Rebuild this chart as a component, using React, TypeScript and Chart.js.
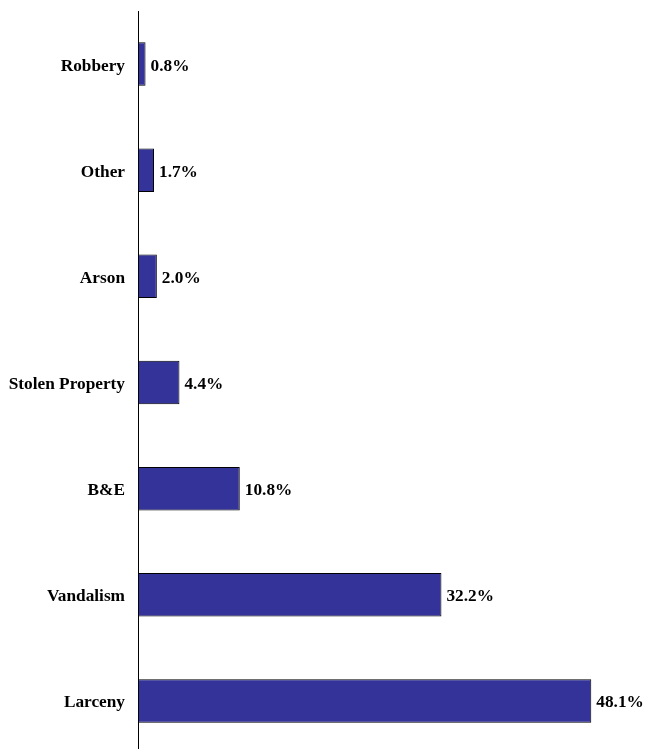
import React, { useEffect, useRef } from "react";
import { Chart, registerables } from "chart.js";

Chart.register(...registerables);

const categories = ["Robbery", "Other", "Arson", "Stolen Property", "B&E", "Vandalism", "Larceny"];
const values = [0.8, 1.7, 2.0, 4.4, 10.8, 32.2, 48.1];
const valueLabels = ["0.8%", "1.7%", "2.0%", "4.4%", "10.8%", "32.2%", "48.1%"];

const FONT = "'Liberation Serif', 'Times New Roman', serif";

const labelPlugin = {
  id: "valueLabels",
  afterDatasetsDraw(chart: any) {
    const ctx = chart.ctx;
    const meta = chart.getDatasetMeta(0);
    ctx.save();
    ctx.font = `bold 17.3px ${FONT}`;
    ctx.fillStyle = "#000";
    ctx.textAlign = "left";
    ctx.textBaseline = "middle";
    meta.data.forEach((bar: any, i: number) => {
      ctx.fillText(valueLabels[i], bar.x + 5, bar.y + 2);
    });
    ctx.restore();
  },
};

export default function App() {
  const ref = useRef<HTMLCanvasElement>(null);
  useEffect(() => {
    if (!ref.current) return;
    const chart = new Chart(ref.current, {
      type: "bar",
      data: {
        labels: categories,
        datasets: [
          {
            data: values,
            backgroundColor: "#333399",
            borderColor: "#000000",
            borderWidth: 1,
            borderSkipped: false,
            categoryPercentage: 1,
            barPercentage: 0.41,
          },
        ],
      },
      options: {
        indexAxis: "y",
        responsive: false,
        animation: false,
        layout: { padding: { top: 11, bottom: 6, left: 0, right: 0 } },
        plugins: { legend: { display: false }, tooltip: { enabled: false } },
        scales: {
          x: { display: false, min: 0, max: 53.8 },
          y: {
            grid: { display: false, drawTicks: false },
            border: { display: true, color: "#000", width: 1 },
            ticks: {
              color: "#000",
              padding: 13,
              labelOffset: 2,
              font: { family: FONT, size: 17.3, weight: "bold" },
            },
            afterFit(scale: any) {
              scale.width = 138;
              scale.paddingTop = 0;
              scale.paddingBottom = 0;
            },
          },
        },
      },
      plugins: [labelPlugin],
    });
    return () => chart.destroy();
  }, []);
  return (
    <div style={{ position: "absolute", left: 0, top: 0, width: 645, height: 749, overflow: "hidden", background: "#fff" }}>
      <canvas ref={ref} width={645} height={760} />
    </div>
  );
}
